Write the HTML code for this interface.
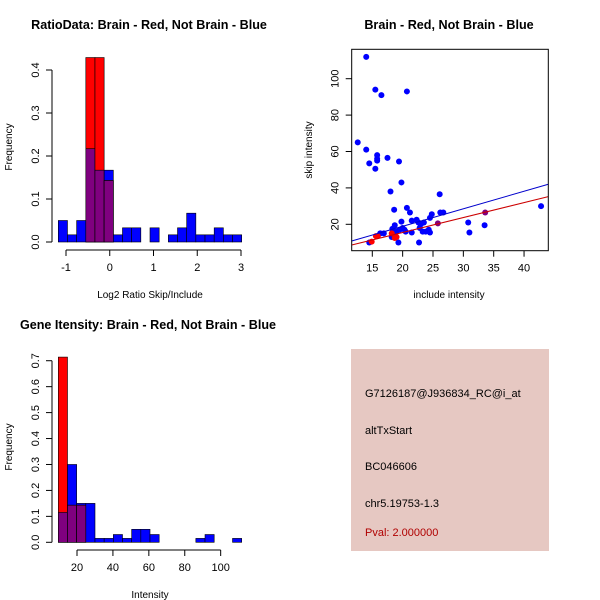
<!DOCTYPE html>
<html><head><meta charset="utf-8"><style>
body{margin:0;background:#fff}
svg{display:block;font-family:"Liberation Sans",sans-serif}
</style></head><body>
<svg id="c" width="600" height="600" viewBox="0 0 600 600">
<rect x="0" y="0" width="600" height="600" fill="#fff"/>
<g id="p1"></g>
<g id="p2"></g>
<g id="p3"></g>
<g>
<rect x="351" y="349" width="198" height="202" fill="#E6C8C2"/>
<text x="365" y="397" font-size="11" fill="#000">G7126187@J936834_RC@i_at</text>
<text x="365" y="434" font-size="11" fill="#000">altTxStart</text>
<text x="365" y="470" font-size="11" fill="#000">BC046606</text>
<text x="365" y="507" font-size="11" fill="#000">chr5.19753-1.3</text>
<text x="365" y="536" font-size="11" fill="#B00000">Pval: 2.000000</text>
</g>
</svg>
<script>
// ---- Panel 1 data ----
const ratioBreakStart = -1.176;
const ratioBinWidth = 0.2096;
const ratioBlue = [0.05,0.0167,0.05,0.217,0.167,0.167,0.0167,0.033,0.033,0,0.033,0,0.0167,0.033,0.067,0.0167,0.0167,0.033,0.0167,0.0167];
const ratioRed = [0,0,0,0.429,0.429,0.143,0,0,0,0,0,0,0,0,0,0,0,0,0,0];
const ratioXTicks = [-1,0,1,2,3];
const ratioYTicks = [0,0.1,0.2,0.3,0.4];
// ---- Panel 2 data ----
const scatterX = [14,15.5,16.5,20.7,12.6,14,14.5,15.8,15.8,15.8,15.5,17.5,19.4,19.8,18,26.1,20.7,18.6,21.2,26.2,26.7,42.8,30.8,31,33.5,24.8,24.5,24.3,24.5,23.5,23.3,23,22.6,22.3,21.5,21.5,22.7,19.3,14.5,19.8,20,20.5,19.5,18.7,18.3,18.2,18.6,16.9,16.3,19,20.3,23.8,22.8];
const scatterY = [112,94,91,93,65,61,53.5,58,56,55,50.5,56.5,54.5,43,38,36.5,29,28,26.5,26.5,26.5,30,21,15.5,19.5,25.5,23.5,17,15.5,21,16,20,21,22.5,22,15.5,10,10,10,21.5,18,16,17,19.5,17.5,13,15.5,15,15,16,17,16,18];
const redX = [14.9,15.6,15.9,18.2,18.7,19,33.6,25.8];
const redY = [10.5,13.5,13.5,15,12.5,13,26.5,20.5];
const blueFit = [-0.37,0.963];
const redFit = [-0.92,0.821];
const scatterXTicks = [15,20,25,30,35,40];
const scatterYTicks = [20,40,60,80,100];
// ---- Panel 3 data ----
const intBreakStart = 9.6;
const intBinWidth = 5.105;
const intBlue = [0.115,0.30,0.15,0.15,0.015,0.015,0.03,0.015,0.05,0.05,0.03,0,0,0,0,0.015,0.03,0,0,0.015];
const intRed = [0.714,0.143,0.143,0,0,0,0,0,0,0,0,0,0,0,0,0,0,0,0,0];
const intXTicks = [20,40,60,80,100];
const intYTicks = [0,0.1,0.2,0.3,0.4,0.5,0.6,0.7];

const NS="http://www.w3.org/2000/svg";
function mk(parent,tag,attrs,text){const e=document.createElementNS(NS,tag);for(const k in attrs)e.setAttribute(k,attrs[k]);if(text!==undefined)e.textContent=text;parent.appendChild(e);return e;}

function hist(g,o){
  const sx=v=>o.x0px+(v-o.x0)*o.kx, sy=v=>o.y0px-v*o.ky;
  o.blue.forEach((v,i)=>{const a=o.bs+i*o.bw,b=a+o.bw;
    if(v>0){const r=mk(g,'rect',{x:sx(a),y:sy(v),width:sx(b)-sx(a),height:sy(0)-sy(v),fill:'#0000FF',stroke:'#000','stroke-width':0.6});
    
    }
    const rv=o.red[i];
    if(rv>0){const r=mk(g,'rect',{x:sx(a),y:sy(rv),width:sx(b)-sx(a),height:sy(0)-sy(rv),fill:'#FF0000',stroke:'#000','stroke-width':0.6});
    
    }
    const m=Math.min(v,rv);
    if(m>0){const r=mk(g,'rect',{x:sx(a),y:sy(m),width:sx(b)-sx(a),height:sy(0)-sy(m),fill:'#7F007F',stroke:'#000','stroke-width':0.6});
    
    }
  });
  const xa=mk(g,'g',{});
  
  
  const xt=o.xt;
  mk(xa,'line',{x1:sx(xt[0]),x2:sx(xt[xt.length-1]),y1:o.xAxisY,y2:o.xAxisY,stroke:'#000'});
  xt.forEach(t=>{mk(xa,'line',{x1:sx(t),x2:sx(t),y1:o.xAxisY,y2:o.xAxisY+6,stroke:'#000'});
    const l=mk(xa,'text',{x:sx(t),y:o.xAxisY+21,'text-anchor':'middle','font-size':11},String(t));
    
    });
  const ya=mk(g,'g',{});
  
  
  const yt=o.yt;
  mk(ya,'line',{x1:o.yAxisX,x2:o.yAxisX,y1:sy(yt[0]),y2:sy(yt[yt.length-1]),stroke:'#000'});
  yt.forEach(t=>{mk(ya,'line',{x1:o.yAxisX,x2:o.yAxisX-6,y1:sy(t),y2:sy(t),stroke:'#000'});
    const l=mk(ya,'text',{x:o.yAxisX-13,y:sy(t),'text-anchor':'middle','font-size':11,transform:`rotate(-90 ${o.yAxisX-13} ${sy(t)})`},t.toFixed(1));
    
    });
  const ttl=mk(g,'text',{x:o.titleX,y:o.titleY,'text-anchor':'middle','font-size':12.6,'font-weight':'bold'},o.title);
  
  
  const xl=mk(g,'text',{x:150,y:o.xlabY,'text-anchor':'middle','font-size':10},o.xlab);
  
  
  const yl=mk(g,'text',{x:12,y:o.ylabY,'text-anchor':'middle','font-size':10,transform:`rotate(-90 12 ${o.ylabY})`},'Frequency');
  
  
}

hist(document.getElementById('p1'),{x0:-1,x0px:66,kx:43.75,y0px:242,ky:430,bs:ratioBreakStart,bw:ratioBinWidth,blue:ratioBlue,red:ratioRed,xt:ratioXTicks,yt:ratioYTicks,xAxisY:250,yAxisX:52,title:'RatioData: Brain - Red, Not Brain - Blue',titleX:149,titleY:29,xlab:'Log2 Ratio Skip/Include',xlabY:298,ylabY:147});
hist(document.getElementById('p3'),{x0:20,x0px:77,kx:1.796,y0px:542.3,ky:259.4,bs:intBreakStart,bw:intBinWidth,blue:intBlue,red:intRed,xt:intXTicks,yt:intYTicks,xAxisY:550,yAxisX:52,title:'Gene Itensity: Brain - Red, Not Brain - Blue',titleX:148,titleY:329,xlab:'Intensity',xlabY:598,ylabY:447});

(function(){
  const g=document.getElementById('p2');
  const sx=v=>372.3+(v-15)*6.07, sy=v=>224.3-(v-20)*1.82;
  const L=351.7,R=548.3,T=49.3,B=250.7;
  const cp=mk(g,'clipPath',{id:'clip'});mk(cp,'rect',{x:L,y:T,width:R-L,height:B-T});
  const inner=mk(g,'g',{'clip-path':'url(#clip)'});
  scatterX.forEach((x,i)=>{const c=mk(inner,'circle',{cx:sx(x),cy:sy(scatterY[i]),r:3,fill:'#0000FF'});
    
    });
  redX.forEach((x,i)=>{const c=mk(inner,'circle',{cx:sx(x),cy:sy(redY[i]),r:3,fill:(x>25?'#7F007F':'#FF0000')});
    
    });
  const xmin=(L-372.3)/6.07+15,xmax=(R-372.3)/6.07+15;
  const bl=mk(inner,'line',{x1:sx(xmin),y1:sy(blueFit[0]+blueFit[1]*xmin),x2:sx(xmax),y2:sy(blueFit[0]+blueFit[1]*xmax),stroke:'#0000CC','stroke-width':1});
  
  
  const rl=mk(inner,'line',{x1:sx(xmin),y1:sy(redFit[0]+redFit[1]*xmin),x2:sx(xmax),y2:sy(redFit[0]+redFit[1]*xmax),stroke:'#CC0000','stroke-width':1});
  
  
  const box=mk(g,'rect',{x:L,y:T,width:R-L,height:B-T,fill:'none',stroke:'#000'});
  
  
  scatterXTicks.forEach(t=>{mk(g,'line',{x1:sx(t),x2:sx(t),y1:B,y2:B+6,stroke:'#000'});
    const l=mk(g,'text',{x:sx(t),y:B+21,'text-anchor':'middle','font-size':11},String(t));
    
    });
  scatterYTicks.forEach(t=>{mk(g,'line',{x1:L,x2:L-6,y1:sy(t),y2:sy(t),stroke:'#000'});
    const l=mk(g,'text',{x:L-13,y:sy(t),'text-anchor':'middle','font-size':11,transform:`rotate(-90 ${L-13} ${sy(t)})`},String(t));
    
    });
  const ttl=mk(g,'text',{x:449,y:29,'text-anchor':'middle','font-size':12.6,'font-weight':'bold'},'Brain - Red, Not Brain - Blue');
  
  
  const xl=mk(g,'text',{x:449,y:298,'text-anchor':'middle','font-size':10},'include intensity');
  
  
  const yl=mk(g,'text',{x:312,y:150,'text-anchor':'middle','font-size':10,transform:'rotate(-90 312 150)'},'skip intensity');
  
  
})();
</script>
</body></html>
